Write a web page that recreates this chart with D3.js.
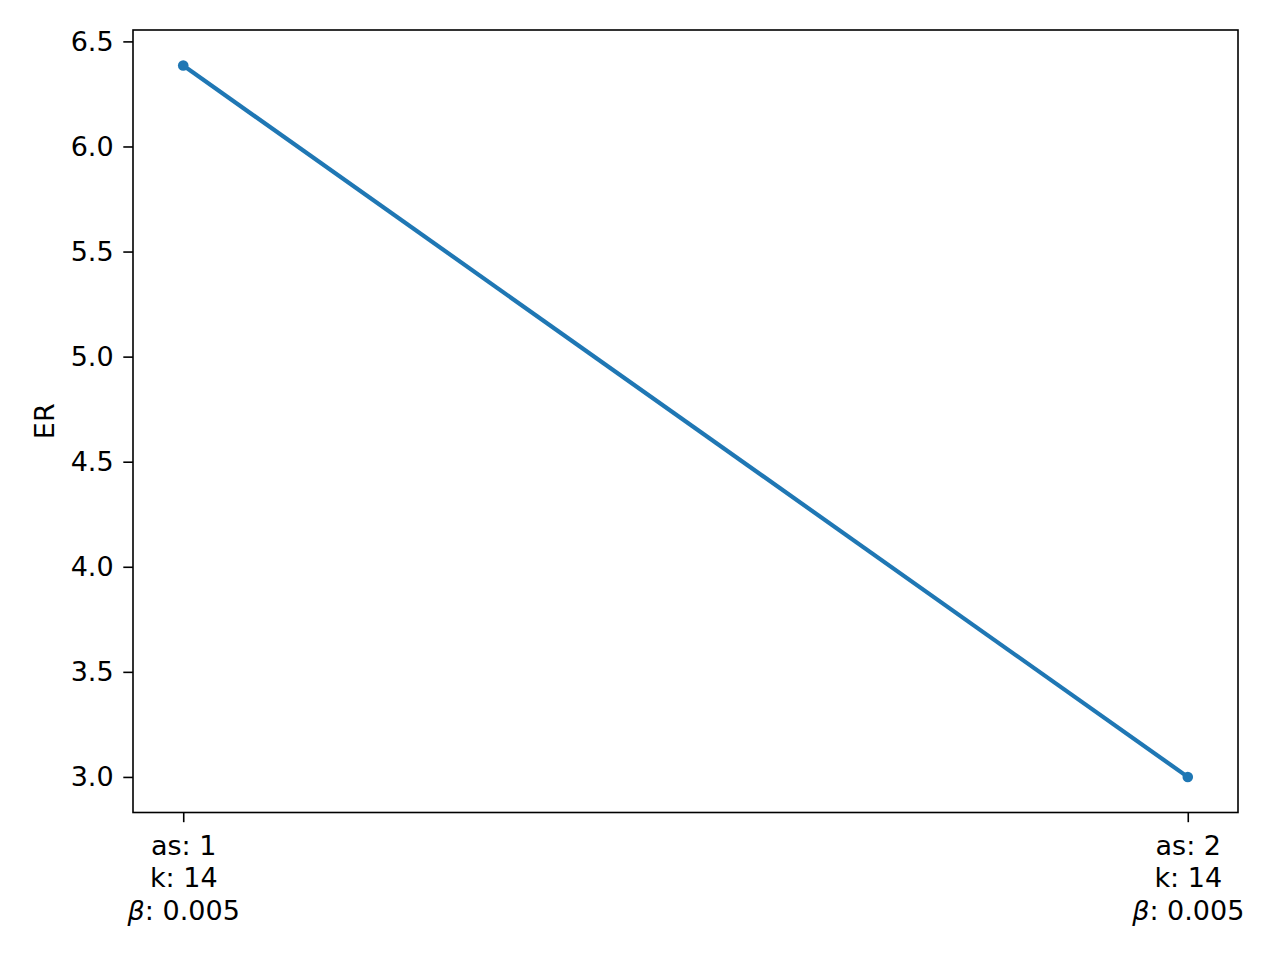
<!DOCTYPE html>
<html>
<head>
<meta charset="utf-8">
<script src="https://cdn.jsdelivr.net/npm/d3@7"></script>
<style>
body { margin: 0; background: #fff; }
text { font-family: "DejaVu Sans", sans-serif; }
</style>
</head>
<body>
<svg width="1280" height="960"></svg>
<script>
var svg = d3.select("svg"),
    width = +svg.attr("width"),
    height = +svg.attr("height");

// data
var xValues = [1, 2];
var erValues = [6.385, 3.0];
var asLabels = ["1", "2"];
var kLabels = ["14", "14"];
var betaLabels = ["0.005", "0.005"];
var yTicks = [3.0, 3.5, 4.0, 4.5, 5.0, 5.5, 6.0, 6.5];

var margin = {left: 133, right: 42, top: 30, bottom: 147.5};
var fontSize = 27;
var tickLen = 9.7, tickPad = 9.7;

// matplotlib-style 5% margins
var xmin = d3.min(xValues), xmax = d3.max(xValues), xpad = (xmax - xmin) * 0.05;
var ymin = d3.min(erValues), ymax = d3.max(erValues), ypad = (ymax - ymin) * 0.05;

var x = d3.scaleLinear()
    .domain([xmin - xpad, xmax + xpad])
    .range([margin.left, width - margin.right]);

var y = d3.scaleLinear()
    .domain([ymin - ypad, ymax + ypad])
    .range([height - margin.bottom, margin.top]);

var color = "#1f77b4";

// line + markers
var line = d3.line()
    .x(function(d, i) { return x(xValues[i]); })
    .y(function(d) { return y(d); });

svg.append("path")
    .datum(erValues)
    .attr("d", line)
    .attr("fill", "none")
    .attr("stroke", color)
    .attr("stroke-width", 4.2)
    .attr("stroke-linecap", "square");

svg.append("g")
    .selectAll("circle")
    .data(erValues)
    .enter().append("circle")
    .attr("cx", function(d, i) { return x(xValues[i]); })
    .attr("cy", function(d) { return y(d); })
    .attr("r", 5.3)
    .attr("fill", color);

// y axis
var yAxis = svg.append("g")
    .attr("transform", "translate(" + margin.left + ",0)")
    .call(d3.axisLeft(y)
        .tickValues(yTicks)
        .tickFormat(d3.format(".1f"))
        .tickSize(tickLen)
        .tickPadding(tickPad));
yAxis.select(".domain").remove();
yAxis.selectAll(".tick line").attr("stroke", "#000").attr("stroke-width", 1.6);
yAxis.selectAll(".tick text")
    .attr("font-size", fontSize)
    .attr("font-family", "DejaVu Sans")
    .attr("fill", "#000");

// x axis with multi-line labels
var xAxis = svg.append("g")
    .attr("transform", "translate(0," + (height - margin.bottom) + ")")
    .call(d3.axisBottom(x)
        .tickValues(xValues)
        .tickFormat("")
        .tickSize(tickLen));
xAxis.select(".domain").remove();
xAxis.selectAll(".tick line").attr("stroke", "#000").attr("stroke-width", 1.6);

xAxis.selectAll(".tick").each(function(d, i) {
    var t = d3.select(this).append("text")
        .attr("text-anchor", "middle")
        .attr("font-size", fontSize)
        .attr("fill", "#000")
        .attr("y", tickLen + tickPad + 23);
    t.append("tspan").attr("x", 0).text("as: " + asLabels[i]);
    t.append("tspan").attr("x", 0).attr("dy", 32.4).text("k: " + kLabels[i]);
    var l3 = t.append("tspan").attr("x", 0).attr("dy", 32.4);
    l3.append("tspan").attr("font-style", "italic").text("\u03b2");
    l3.append("tspan").text(": " + betaLabels[i]);
});

// frame
svg.append("rect")
    .attr("x", margin.left)
    .attr("y", margin.top)
    .attr("width", width - margin.left - margin.right)
    .attr("height", height - margin.top - margin.bottom)
    .attr("fill", "none")
    .attr("stroke", "#000")
    .attr("stroke-width", 1.6);

// y label
svg.append("text")
    .attr("transform", "translate(54," + ((margin.top + height - margin.bottom) / 2) + ") rotate(-90)")
    .attr("text-anchor", "middle")
    .attr("font-size", fontSize)
    .attr("fill", "#000")
    .text("ER");
</script>
</body>
</html>
